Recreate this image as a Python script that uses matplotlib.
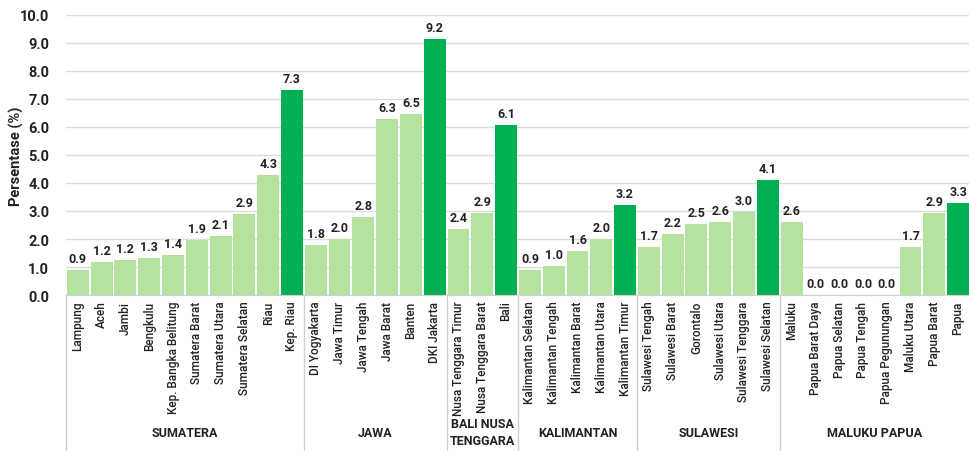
import matplotlib
matplotlib.use("Agg")
import matplotlib.pyplot as plt
import numpy as np

plt.rcParams['font.family'] = ['Roboto', 'DejaVu Sans']

# provinces grouped by region, values in percent
groups = ['SUMATERA', 'JAWA', 'BALI NUSA\nTENGGARA', 'KALIMANTAN', 'SULAWESI', 'MALUKU PAPUA']
sumatera = ['Lampung', 'Aceh', 'Jambi', 'Bengkulu', 'Kep. Bangka Belitung', 'Sumatera Barat',
            'Sumatera Utara', 'Sumatera Selatan', 'Riau', 'Kep. Riau']
sumatera_val = [0.9, 1.17, 1.24, 1.33, 1.42, 1.95, 2.1, 2.88, 4.3, 7.3]
jawa = ['DI Yogyakarta', 'Jawa Timur', 'Jawa Tengah', 'Jawa Barat', 'Banten', 'DKI Jakarta']
jawa_val = [1.8, 2.0, 2.78, 6.27, 6.45, 9.15]
balinusra = ['Nusa Tenggara Timur', 'Nusa Tenggara Barat', 'Bali']
balinusra_val = [2.35, 2.93, 6.08]
kalimantan = ['Kalimantan Selatan', 'Kalimantan Tengah', 'Kalimantan Barat', 'Kalimantan Utara',
              'Kalimantan Timur']
kalimantan_val = [0.88, 1.02, 1.57, 2.0, 3.22]
sulawesi = ['Sulawesi Tengah', 'Sulawesi Barat', 'Gorontalo', 'Sulawesi Utara', 'Sulawesi Tenggara',
            'Sulawesi Selatan']
sulawesi_val = [1.7, 2.17, 2.52, 2.62, 2.98, 4.1]
malukupapua = ['Maluku', 'Papua Barat Daya', 'Papua Selatan', 'Papua Tengah', 'Papua Pegunungan',
               'Maluku Utara', 'Papua Barat', 'Papua']
malukupapua_val = [2.6, 0.0, 0.0, 0.0, 0.0, 1.72, 2.93, 3.3]

names_by_group = [sumatera, jawa, balinusra, kalimantan, sulawesi, malukupapua]
vals_by_group = [sumatera_val, jawa_val, balinusra_val, kalimantan_val, sulawesi_val, malukupapua_val]

light = '#b4e3a0'
dark = '#00b050'

labels, values, colors = [], [], []
for names, vals in zip(names_by_group, vals_by_group):
    labels += names
    values += vals
    colors += [light] * (len(vals) - 1) + [dark]

x = np.arange(len(values))

fig = plt.figure(figsize=(9.7, 4.52), dpi=100)
ax = fig.add_axes([0.068, 0.345, 0.932, 0.62])

ax.bar(x, values, width=0.92, color=colors, zorder=2)
ax.set_xlim(-0.5, len(values) - 0.5)
ax.set_ylim(0, 10)
ax.set_yticks(np.arange(0, 10.1, 1))
ax.set_yticklabels([f'{v:.1f}' for v in np.arange(0, 10.1, 1)], fontsize=10.5, fontweight='bold',
                   color='#222222')
ax.grid(axis='y', color='#dcdcdc', linewidth=1, zorder=0)
ax.tick_params(axis='y', length=0, pad=12)
ax.tick_params(axis='x', length=0, pad=4)
for s in ['top', 'right', 'left']:
    ax.spines[s].set_visible(False)
ax.spines['bottom'].set_color('#d0d0d0')

ax.set_xticks(x)
ax.set_xticklabels(labels, rotation=90, fontsize=8.5, fontweight='medium', color='#222222', va='top')
ax.set_ylabel('Persentase (%)', fontsize=10.5, fontweight='bold', color='#222222')
ax.yaxis.set_label_coords(-0.046, 0.5)

for xi, v in zip(x, values):
    ax.text(xi, v + 0.18, f'{v:.1f}', ha='center', va='bottom', fontsize=9, fontweight='bold',
            color='#222222')

# group separators and labels below the axis
trans = ax.get_xaxis_transform()
start = 0
bounds = [-0.5]
for g, names in zip(groups, names_by_group):
    end = start + len(names)
    ax.text((start + end - 1) / 2, -0.49, g, transform=trans, ha='center', va='center',
            fontsize=9, fontweight='bold', color='#222222', linespacing=1.4)
    bounds.append(end - 0.5)
    start = end
for b in bounds[:-1]:
    ax.plot([b, b], [0, -0.56], transform=trans, color='#d0d0d0', linewidth=1, clip_on=False)

fig.savefig('out.png', dpi=100)
